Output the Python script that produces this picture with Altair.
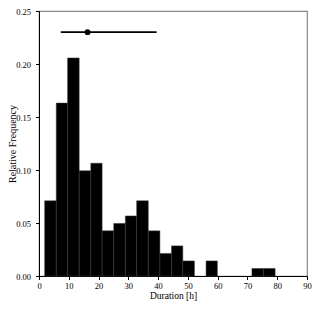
import altair as alt
import pandas as pd

bin_edges = [1.9, 5.8, 9.6, 13.5, 17.4, 21.2, 25.1, 29.0, 32.8, 36.7, 40.6,
             44.5, 48.3, 52.2, 56.1, 59.9, 63.8, 67.7, 71.5, 75.4, 79.3]
rel_freq = [0.0709, 0.1631, 0.2057, 0.0993, 0.1064, 0.0426, 0.0496, 0.0567,
            0.0709, 0.0426, 0.0213, 0.0284, 0.0142, 0.0, 0.0142, 0.0, 0.0,
            0.0, 0.0071, 0.0071]
summary_y = [0.23]
summary_lo = [7.3]
summary_mid = [16.3]
summary_hi = [39.5]

x_ticks = [0, 10, 20, 30, 40, 50, 60, 70, 80, 90]
y_ticks = [0.0, 0.05, 0.10, 0.15, 0.20, 0.25]

bars_df = pd.DataFrame({
    "start": bin_edges[:-1],
    "end": bin_edges[1:],
    "freq": rel_freq,
})
bars_df = bars_df[bars_df["freq"] > 0]

sum_df = pd.DataFrame({"y": summary_y, "lo": summary_lo, "mid": summary_mid, "hi": summary_hi})

FONT = "Liberation Serif"

x_scale = alt.Scale(domain=[0, 90], nice=False, zero=False)
y_scale = alt.Scale(domain=[0, 0.25], nice=False)

x_axis = alt.Axis(values=x_ticks, title="Duration [h]", grid=False, format="d",
                  tickSize=3.5, tickColor="black", domainColor="black",
                  labelOverlap=False, labelFlush=False,
                  labelFont=FONT, labelFontSize=8.5, labelColor="black",
                  titleFont=FONT, titleFontSize=9.5, titleFontWeight="normal",
                  titleColor="black", labelPadding=2,
                  titleY=22, titleBaseline="alphabetic")
y_axis = alt.Axis(values=y_ticks, title="Relative Frequency", grid=False, format=".2f",
                  tickSize=3.5, tickColor="black", domainColor="black",
                  labelOverlap=False, labelFlush=False,
                  labelFont=FONT, labelFontSize=8.5, labelColor="black",
                  titleFont=FONT, titleFontSize=10, titleFontWeight="normal",
                  titleColor="black", labelPadding=5,
                  titleX=-22, titleBaseline="bottom")

bars = alt.Chart(bars_df).mark_rect(color="black", stroke="#3a3a3a", strokeWidth=0.5).encode(
    x=alt.X("start:Q", scale=x_scale, axis=x_axis),
    x2="end:Q",
    y=alt.Y("freq:Q", scale=y_scale, axis=y_axis),
    y2=alt.datum(0),
)

rule = alt.Chart(sum_df).mark_rule(color="black", strokeWidth=1.8).encode(
    x=alt.X("lo:Q", scale=x_scale, axis=x_axis),
    x2="hi:Q",
    y=alt.Y("y:Q", scale=y_scale, axis=y_axis),
)

pt = alt.Chart(sum_df).mark_point(filled=True, color="black", size=34, opacity=1).encode(
    x=alt.X("mid:Q", scale=x_scale, axis=x_axis),
    y=alt.Y("y:Q", scale=y_scale, axis=y_axis),
)

chart = alt.layer(bars, rule, pt).properties(
    width=268, height=265,
    autosize=alt.AutoSizeParams(type="none"),
    padding={"left": 31, "top": 3, "right": 5, "bottom": 25},
).configure_view(stroke="#888888", strokeWidth=1.2)

chart.save("out.html", embed_options={"renderer": "svg", "actions": False})
